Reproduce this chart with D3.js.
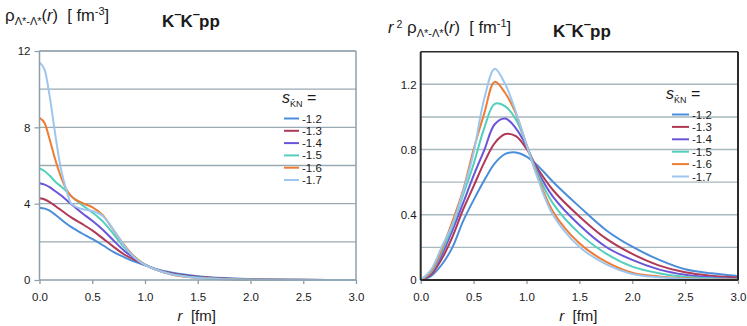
<!DOCTYPE html>
<html>
<head>
<meta charset="utf-8">
<script src="https://cdn.jsdelivr.net/npm/d3@7"></script>
<style>
  body { margin: 0; background: #fff; }
  svg { font-family: "Liberation Sans", Arial, sans-serif; }
  text { white-space: pre; fill: #1a1a1a; }
</style>
</head>
<body>
<div class="chart"></div>
<script>
// ---- data ----
const S_LABELS = ["-1.2", "-1.3", "-1.4", "-1.5", "-1.6", "-1.7"];

// left panel: rho(r) [fm^-3]
const R_LEFT = [0, 0.05, 0.1, 0.15, 0.2, 0.25, 0.3, 0.4, 0.5, 0.6, 0.7, 0.8, 0.9, 1.0, 1.1, 1.25, 1.5, 1.75, 2.0, 2.5, 3.0];
const RHO_12 = [3.79, 3.74, 3.62, 3.42, 3.2, 2.97, 2.78, 2.45, 2.15, 1.82, 1.47, 1.2, 0.96, 0.77, 0.58, 0.39, 0.2, 0.1, 0.05, 0.011, 0.003];
const RHO_13 = [4.28, 4.22, 4.07, 3.88, 3.68, 3.47, 3.28, 2.95, 2.6, 2.18, 1.75, 1.35, 1.05, 0.8, 0.57, 0.35, 0.17, 0.085, 0.04, 0.008, 0.002];
const RHO_14 = [5.07, 5.0, 4.85, 4.65, 4.45, 4.22, 3.98, 3.52, 3.1, 2.63, 2.08, 1.55, 1.14, 0.8, 0.56, 0.33, 0.15, 0.068, 0.03, 0.006, 0.001];
const RHO_15 = [5.85, 5.7, 5.45, 5.15, 4.92, 4.67, 4.4, 3.95, 3.54, 3.07, 2.42, 1.72, 1.2, 0.8, 0.55, 0.3, 0.127, 0.055, 0.02, 0.004, 0.001];
const RHO_16 = [8.5, 8.2, 7.3, 6.3, 5.45, 4.8, 4.4, 4.05, 3.82, 3.4, 2.62, 1.85, 1.22, 0.8, 0.54, 0.29, 0.11, 0.045, 0.015, 0.003, 0.001];
const RHO_17 = [11.4, 11.0, 9.5, 7.6, 5.9, 4.8, 4.0, 3.72, 3.62, 3.35, 2.65, 1.82, 1.18, 0.79, 0.55, 0.3, 0.11, 0.045, 0.015, 0.003, 0.001];

// right panel: r^2 rho(r) [fm^-1]
const R_RIGHT = [0, 0.1, 0.2, 0.3, 0.4, 0.5, 0.6, 0.7, 0.8, 0.9, 1.0, 1.1, 1.25, 1.5, 1.75, 2.0, 2.25, 2.5, 2.75, 3.0];
const R2RHO_12 = [0, 0.025, 0.095, 0.2, 0.36, 0.49, 0.61, 0.715, 0.773, 0.782, 0.757, 0.705, 0.603, 0.45, 0.307, 0.204, 0.125, 0.066, 0.041, 0.025];
const R2RHO_13 = [0, 0.035, 0.13, 0.265, 0.43, 0.575, 0.72, 0.84, 0.895, 0.882, 0.805, 0.69, 0.552, 0.39, 0.255, 0.16, 0.09, 0.047, 0.026, 0.015];
const R2RHO_14 = [0, 0.045, 0.155, 0.305, 0.47, 0.64, 0.795, 0.955, 0.99, 0.93, 0.82, 0.675, 0.511, 0.337, 0.204, 0.123, 0.065, 0.032, 0.016, 0.008];
const R2RHO_15 = [0, 0.05, 0.175, 0.33, 0.52, 0.71, 0.93, 1.08, 1.065, 0.985, 0.83, 0.66, 0.47, 0.286, 0.163, 0.082, 0.042, 0.02, 0.01, 0.005];
const R2RHO_16 = [0, 0.055, 0.19, 0.36, 0.55, 0.8, 1.02, 1.215, 1.145, 1.02, 0.83, 0.645, 0.42, 0.225, 0.113, 0.045, 0.022, 0.01, 0.005, 0.003];
const R2RHO_17 = [0, 0.065, 0.205, 0.34, 0.54, 0.78, 1.11, 1.295, 1.2, 1.03, 0.83, 0.635, 0.4, 0.204, 0.098, 0.037, 0.017, 0.008, 0.004, 0.002];

const X_TICKS = [0, 0.5, 1.0, 1.5, 2.0, 2.5, 3.0];
const LEFT_Y_GRID = [2, 4, 6, 8, 10, 12];
const LEFT_Y_LABELS = [0, 4, 8, 12];
const RIGHT_Y_GRID = [0.2, 0.4, 0.6, 0.8, 1.0, 1.2];
const RIGHT_Y_LABELS = [0, 0.4, 0.8, 1.2];

// line colours, one per s value
const COLORS = ["#4a8edb", "#b03a55", "#6a55d8", "#52d0bd", "#ef7c35", "#9cc6ee"];

const svg = d3.select(".chart").append("svg").attr("width", 747).attr("height", 326);

// draw one panel
function drawPanel(p) {
  const x = d3.scaleLinear().domain([0, 3]).range([p.x0, p.x1]);
  const y = d3.scaleLinear().domain([0, p.ymax]).range([p.y0, p.y1]);
  const g = svg.append("g");

  // gridlines
  g.selectAll(".grid").data(p.grid).enter().append("line")
    .attr("x1", p.x0).attr("x2", p.x1)
    .attr("y1", d => y(d)).attr("y2", d => y(d))
    .attr("stroke", p.gridColor).attr("stroke-width", 1.4);

  // x axis with ticks pointing down
  const xa = g.append("g").attr("transform", `translate(0,${p.y0})`)
    .call(d3.axisBottom(x).tickValues(X_TICKS).tickFormat(d3.format(".1f")).tickSize(4).tickPadding(9));
  xa.select(".domain").remove();
  xa.selectAll(".tick line").attr("stroke", "#8a9ca5").attr("stroke-width", 1.3);
  xa.selectAll(".tick text").attr("font-size", 11.5).attr("fill", "#1a1a1a")
    .attr("font-family", "Liberation Sans, Arial, sans-serif");

  // y axis labels
  const ya = g.append("g").attr("transform", `translate(${p.x0},0)`)
    .call(d3.axisLeft(y).tickValues(p.labels).tickFormat(p.fmt).tickSize(p.ytick).tickPadding(4));
  ya.select(".domain").remove();
  ya.selectAll(".tick line").attr("stroke", p.frameColor).attr("stroke-width", 1.2);
  ya.selectAll(".tick text").attr("font-size", 11.5).attr("fill", "#1a1a1a")
    .attr("font-family", "Liberation Sans, Arial, sans-serif");

  // curves
  const line = d3.line().x((d, i) => x(p.r[i])).y(d => y(d)).curve(p.curve);
  g.selectAll(".curve").data(p.series).enter().append("path")
    .attr("d", d => line(d))
    .attr("fill", "none")
    .attr("stroke", (d, i) => COLORS[i])
    .attr("stroke-width", 2);

  // frame
  g.append("line").attr("x1", p.x0).attr("x2", p.x1).attr("y1", p.y1).attr("y2", p.y1)
    .attr("stroke", p.topColor).attr("stroke-width", p.topW);
  g.append("line").attr("x1", p.x1).attr("x2", p.x1).attr("y1", p.y1).attr("y2", p.y0)
    .attr("stroke", p.frameColor).attr("stroke-width", p.frameW);
  g.append("line").attr("x1", p.x0).attr("x2", p.x1).attr("y1", p.y0).attr("y2", p.y0)
    .attr("stroke", p.frameColor).attr("stroke-width", p.frameW);
  g.append("line").attr("x1", p.x0).attr("x2", p.x0).attr("y1", p.y1).attr("y2", p.y0)
    .attr("stroke", p.frameColor).attr("stroke-width", p.frameW);

  // x axis title
  const xt = g.append("text").attr("x", (p.x0 + p.x1) / 2 - 1).attr("y", 321)
    .attr("text-anchor", "middle").attr("font-size", 15);
  xt.append("tspan").attr("font-style", "italic").text("r");
  xt.append("tspan").text("  [fm]");

  // legend
  const lg = g.append("g").attr("transform", `translate(${p.legX},${p.legY})`);
  const lt = lg.append("text").attr("x", 0).attr("y", -16).attr("font-size", 16);
  lt.append("tspan").attr("font-style", "italic").text("s");
  lt.append("tspan").attr("font-size", 9).attr("dy", 4).text("K\u0304N");
  lt.append("tspan").attr("dy", -4).text(" =");
  const items = lg.selectAll(".item").data(S_LABELS).enter().append("g")
    .attr("transform", (d, i) => `translate(0,${i * p.legStep})`);
  items.append("line").attr("x1", p.legLine0).attr("x2", p.legLine1).attr("y1", 0).attr("y2", 0)
    .attr("stroke", (d, i) => COLORS[i]).attr("stroke-width", 2);
  items.append("text").attr("x", p.legLine1 + 3).attr("y", 4).attr("font-size", 11.5).text(d => d);
}

drawPanel({
  x0: 39.5, x1: 356, y0: 280, y1: 51, ymax: 12, curve: d3.curveMonotoneX,
  r: R_LEFT, series: [RHO_12, RHO_13, RHO_14, RHO_15, RHO_16, RHO_17],
  grid: LEFT_Y_GRID, labels: LEFT_Y_LABELS, fmt: d3.format("d"), ytick: 5,
  gridColor: "#9aaab2", frameColor: "#8c9fa8", topColor: "#9aaab2", topW: 1.4, frameW: 1.5,
  legX: 282, legY: 118.5, legStep: 12.3, legLine0: 2, legLine1: 17
});

drawPanel({
  x0: 420.7, x1: 738, y0: 280, y1: 51.7, ymax: 1.4, curve: d3.curveCatmullRom.alpha(0.5),
  r: R_RIGHT, series: [R2RHO_12, R2RHO_13, R2RHO_14, R2RHO_15, R2RHO_16, R2RHO_17],
  grid: RIGHT_Y_GRID, labels: RIGHT_Y_LABELS, fmt: d => d === 0 ? "0" : d3.format(".1f")(d), ytick: 0,
  gridColor: "#a9b7be", frameColor: "#2a2a2a", topColor: "#2a2a2a", topW: 1.5, frameW: 2,
  legX: 666, legY: 114.5, legStep: 12.4, legLine0: 6, legLine1: 23
});

// panel titles
const t1 = svg.append("text").attr("x", 5).attr("y", 20.5).attr("font-size", 16.5);
t1.append("tspan").attr("font-size", 17).text("\u03c1");
t1.append("tspan").attr("font-size", 11).attr("dy", 4).text("\u039b*-\u039b*");
t1.append("tspan").attr("dy", -4).text("(");
t1.append("tspan").attr("font-style", "italic").text("r");
t1.append("tspan").text(")  [ fm");
t1.append("tspan").attr("font-size", 11).attr("dy", -6).text("-3");
t1.append("tspan").attr("dy", 6).text("]");

const t2 = svg.append("text").attr("x", 388).attr("y", 33).attr("font-size", 16.5);
t2.append("tspan").attr("font-style", "italic").text("r");
t2.append("tspan").attr("font-size", 10.5).attr("dy", -5).text(" 2");
t2.append("tspan").attr("font-size", 17).attr("dy", 5).text(" \u03c1");
t2.append("tspan").attr("font-size", 11).attr("dy", 4).text("\u039b*-\u039b*");
t2.append("tspan").attr("dy", -4).text("(");
t2.append("tspan").attr("font-style", "italic").text("r");
t2.append("tspan").text(")  [ fm");
t2.append("tspan").attr("font-size", 11).attr("dy", -6).text("-1");
t2.append("tspan").attr("dy", 6).text("]");

// K-K-pp labels
function kkpp(xp, yp) {
  const t = svg.append("text").attr("x", xp).attr("y", yp)
    .attr("font-size", 17).attr("font-weight", "bold");
  t.append("tspan").text("K");
  t.append("tspan").attr("font-size", 13).attr("dy", -9).text("\u2013");
  t.append("tspan").attr("dy", 9).attr("dx", -1).text("K");
  t.append("tspan").attr("font-size", 13).attr("dy", -9).text("\u2013");
  t.append("tspan").attr("dy", 9).attr("dx", -1).text("pp");
}
kkpp(162, 27);
kkpp(553, 37);
</script>
</body>
</html>
